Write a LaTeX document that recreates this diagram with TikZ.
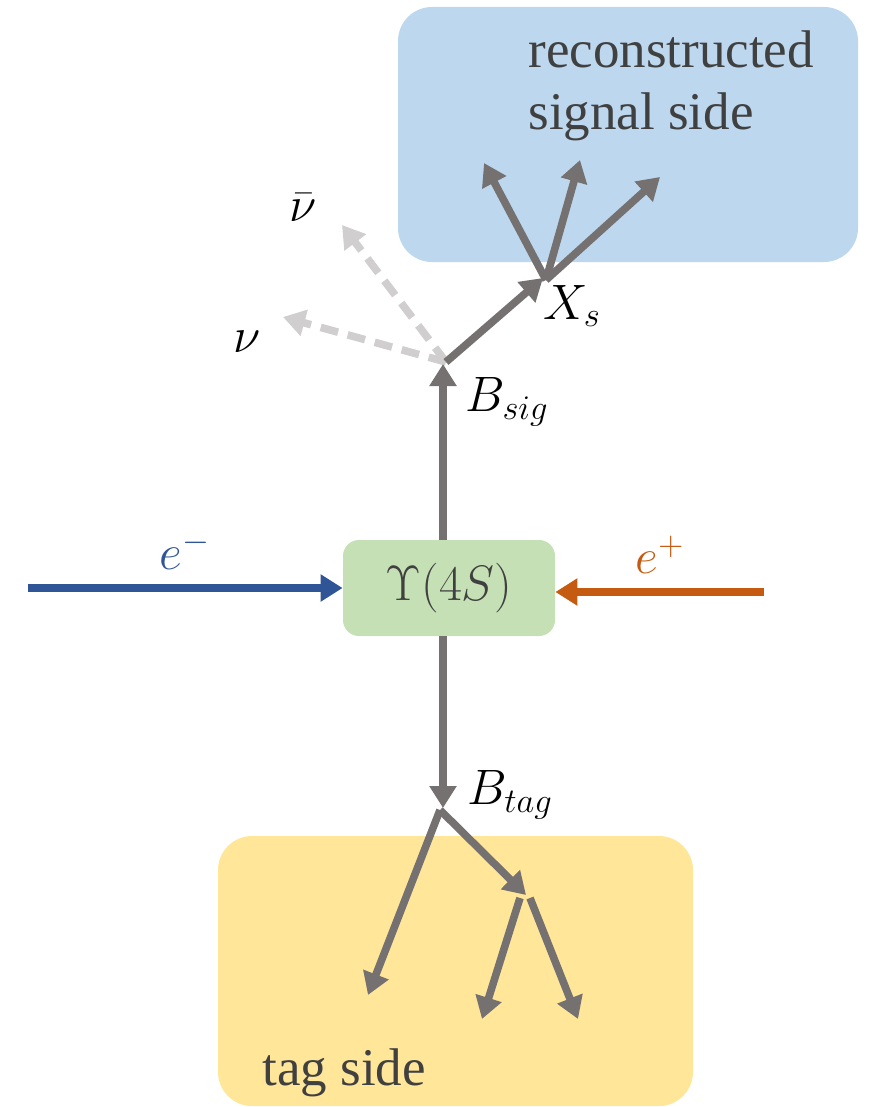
\documentclass[tikz,border=0pt]{standalone}
\usepackage{fontspec}
\setmainfont{Liberation Serif}
\usetikzlibrary{arrows.meta}
\definecolor{boxblue}{HTML}{BDD7EE}
\definecolor{boxyellow}{HTML}{FFE699}
\definecolor{boxgreen}{HTML}{C5E0B4}
\definecolor{pgray}{HTML}{767171}
\definecolor{ngray}{HTML}{D0CECE}
\definecolor{eblue}{HTML}{2F5597}
\definecolor{eorange}{HTML}{C55A11}
\definecolor{txtgray}{HTML}{404040}
\begin{document}
\begin{tikzpicture}[x=0.5pt,y=-0.5pt,
  tip/.style={-{Triangle[length=11pt,width=13pt]}},
  part/.style={draw=pgray, line width=3.8pt, tip},
  nu/.style={draw=ngray, line width=3.8pt, dash pattern=on 9pt off 5pt, tip},
  beam/.style={line width=3.8pt, tip},
  mlab/.style={font=\fontsize{24}{28}\selectfont, inner sep=0pt},
  tlab/.style={font=\fontsize{26.5}{30}\selectfont, text=txtgray, inner sep=0pt, anchor=base west},
  region/.style={rounded corners=17pt}]
\useasboundingbox (0,0) rectangle (869,1107);
% regions
\fill[boxblue, region] (398,7) rectangle (858,262);
\fill[boxyellow, region] (218,836) rectangle (693,1106);
\node[tlab] (rec1) at (528,68) {reconstructed};
\node[tlab] (rec2) at (528,130) {signal side};
\node[tlab] (tagt) at (262,1085) {tag side};
% central node
\node[fill=boxgreen, rounded corners=8pt, minimum width=106pt, minimum height=48pt,
      text=txtgray, font=\fontsize{24}{28}\selectfont] (ups) at (449,588) {$\Upsilon(4S)$};
% beams
\coordinate (em) at (28,588);
\coordinate (ep) at (764,592);
\draw[beam, eblue] (em) -- (ups.west |- em);
\draw[beam, eorange] (ep) -- (ups.east |- ep);
\node[mlab, text=eblue] (emlab) at (185,550) {$e^-$};
\node[mlab, text=eorange] (eplab) at (660,555) {$e^+$};
% signal side
\coordinate (bsig) at (443,364);
\coordinate (vsig) at (446,362);
\coordinate (xs) at (543,278);
\coordinate (xs0) at (546,280);
\coordinate (s1) at (484,163);
\coordinate (s2) at (580,160);
\coordinate (s3) at (660,177);
\coordinate (n1) at (283,317);
\coordinate (n2) at (342,225);
\draw[nu] (vsig) -- (n1);
\draw[nu] (vsig) -- (n2);
\draw[part] (ups.north -| bsig) -- (bsig);
\draw[part] (vsig) -- (xs);
\draw[part] (xs0) -- (s1);
\draw[part] (xs0) -- (s2);
\draw[part] (xs0) -- (s3);
\node[mlab] (bsiglab) at (507,402) {$B_{sig}$};
\node[mlab] (xslab) at (572,306) {$X_s$};
\node[mlab] (nulab) at (247,342) {$\nu$};
\node[mlab] (nublab) at (303,208) {$\bar{\nu}$};
% tag side
\coordinate (btag) at (443,808);
\coordinate (vtag) at (440,810);
\coordinate (t1) at (368,995);
\coordinate (t2) at (526,895);
\coordinate (t2a) at (520,898);
\coordinate (t2b) at (530,898);
\coordinate (t3) at (482,1019);
\coordinate (t4) at (578,1019);
\draw[part] (ups.south -| btag) -- (btag);
\draw[part] (vtag) -- (t1);
\draw[part] (vtag) -- (t2);
\draw[part] (t2a) -- (t3);
\draw[part] (t2b) -- (t4);
\node[mlab] (btaglab) at (510,795) {$B_{tag}$};
\end{tikzpicture}
\end{document}
